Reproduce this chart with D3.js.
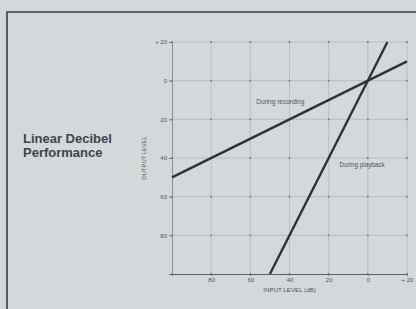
<!DOCTYPE html>
<html><head><meta charset="utf-8">
<script src="https://cdn.jsdelivr.net/npm/d3@7"></script>
<style>
html,body{margin:0;padding:0;background:#d3d8da;}
svg{display:block;}
</style></head>
<body>
<svg id="c" width="416" height="309"></svg>
<script>
// Data
const title = ["Linear Decibel", "Performance"];
const xTicks = [-100, -80, -60, -40, -20, 0, 20];
const yTicks = [20, 0, -20, -40, -60, -80, -100];
const xTickLabels = ["", "80", "60", "40", "20", "0", "+ 20"];
const yTickLabels = ["+ 20", "0", "20", "40", "60", "80", ""];
const recordingInput = [-100, 20];
const recordingOutput = [-50, 10];
const playbackInput = [-50, 10];
const playbackOutput = [-100, 20];
const seriesLabels = ["During recording", "During playback"];
const xTitle = "INPUT LEVEL (dB)";
const yTitle = "OUTPUT LEVEL";

const svg = d3.select("#c");
const ink = "#2c3235";
const txt = "#4f5559";
const font = "Liberation Sans, Arial, sans-serif";

// frame
svg.append("path").attr("d", "M7,318 L7,12 L420,12")
  .attr("fill", "none").attr("stroke", "#3a3f42").attr("stroke-width", 1.6);

// title
svg.append("g").selectAll("text").data(title).join("text")
  .attr("x", 23).attr("y", (d, i) => 143 + i * 14)
  .attr("font-family", font)
  .attr("font-weight", "bold").attr("font-size", 13)
  .attr("fill", "#3f454a").text(d => d);

const x = d3.scaleLinear().domain([-100, 20]).range([172, 407]);
const y = d3.scaleLinear().domain([-100, 20]).range([274, 42]);

// gridlines
const grid = svg.append("g");
grid.selectAll("line.v").data(xTicks.slice(1)).join("line")
  .attr("x1", d => x(d)).attr("x2", d => x(d)).attr("y1", y(20)).attr("y2", y(-100))
  .attr("stroke", "#b0b5b7").attr("stroke-width", 0.7);
grid.selectAll("line.h").data(yTicks.slice(0, -1)).join("line")
  .attr("y1", d => y(d)).attr("y2", d => y(d)).attr("x1", x(-100)).attr("x2", x(20))
  .attr("stroke", "#b0b5b7").attr("stroke-width", 0.7);
// intersection dots
const pts = [];
xTicks.forEach(a => yTicks.forEach(b => pts.push([a, b])));
grid.selectAll("circle").data(pts).join("circle")
  .attr("cx", d => x(d[0])).attr("cy", d => y(d[1])).attr("r", 0.9)
  .attr("fill", "#6d7275");

// axes
const xAxis = d3.axisBottom(x).tickValues(xTicks).tickSize(2)
  .tickFormat((d, i) => xTickLabels[i]);
const gx = svg.append("g").attr("transform", `translate(0,${y(-100)})`).call(xAxis);
gx.select(".domain").attr("stroke", "#5b6064").attr("stroke-width", 1);
gx.selectAll(".tick line").attr("stroke", "#6d7275");
gx.selectAll("text").attr("font-family", font)
  .attr("font-size", 6).attr("fill", txt).attr("dy", "0.5em");

const yAxis = d3.axisLeft(y).tickValues(yTicks).tickSize(3)
  .tickFormat((d, i) => yTickLabels[i]);
const gy = svg.append("g").attr("transform", `translate(${x(-100)},0)`).call(yAxis);
gy.select(".domain").attr("stroke", "#7a7f82").attr("stroke-width", 0.8);
gy.selectAll(".tick line").attr("stroke", "#6d7275");
gy.selectAll("text").attr("font-family", font)
  .attr("font-size", 6).attr("fill", txt).attr("x", -5);

// axis titles
svg.append("text").attr("x", x(-40)).attr("y", 292).attr("text-anchor", "middle")
  .attr("font-family", font).attr("font-size", 6.2)
  .attr("fill", txt).text(xTitle);
svg.append("text").attr("transform", `translate(146,158) rotate(-90)`)
  .attr("text-anchor", "middle")
  .attr("font-family", font).attr("font-size", 5.8)
  .attr("fill", txt).text(yTitle);

// lines
const line = d3.line().x(d => x(d[0])).y(d => y(d[1]));
const rec = recordingInput.map((v, i) => [v, recordingOutput[i]]);
const pb = playbackInput.map((v, i) => [v, playbackOutput[i]]);
svg.append("path").datum(rec).attr("d", line).attr("fill", "none")
  .attr("stroke", ink).attr("stroke-width", 2.4);
svg.append("path").datum(pb).attr("d", line).attr("fill", "none")
  .attr("stroke", ink).attr("stroke-width", 2.4);

// series labels
svg.append("text").attr("x", x(-57)).attr("y", y(-12)).attr("font-family", font)
  .attr("font-size", 6.5).attr("fill", txt).text(seriesLabels[0]);
svg.append("text").attr("x", x(-14.5)).attr("y", y(-44.5)).attr("font-family", font)
  .attr("font-size", 6.3).attr("fill", txt).text(seriesLabels[1]);
</script>
</body></html>
